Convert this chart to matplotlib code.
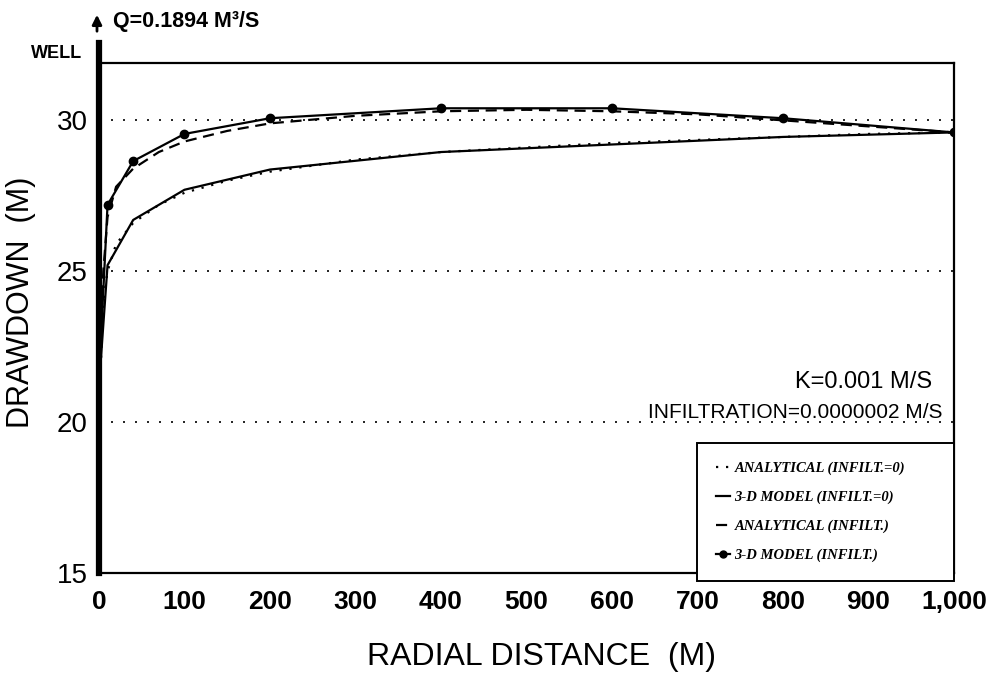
"""
Drawdown vs radial distance around a pumping well:
analytical solutions vs 3-D model, with and without infiltration.
"""

import matplotlib.pyplot as plt
from matplotlib.lines import Line2D

# 3-D model nodes (M) and drawdown (M)
model_r = [2, 10, 40, 100, 200, 400, 600, 800, 1000]
model_infilt = [22.6, 27.2, 28.65, 29.55, 30.07, 30.4, 30.4, 30.07, 29.6]
model_no_infilt = [22.0, 25.2, 26.7, 27.7, 28.37, 28.95, 29.2, 29.45, 29.6]

# analytical curves
anal_r = [2, 5, 10, 20, 40, 70, 100, 150, 200, 300, 400, 500, 600, 700, 800, 900, 1000]
anal_infilt = [22.4, 25.0, 26.8, 27.8, 28.4, 28.95, 29.3, 29.65, 29.9, 30.15,
               30.3, 30.35, 30.3, 30.2, 30.0, 29.8, 29.6]
anal_no_infilt = [21.8, 24.0, 25.0, 25.9, 26.6, 27.2, 27.6, 28.0, 28.3, 28.7,
                  28.95, 29.1, 29.25, 29.35, 29.45, 29.55, 29.6]

x_ticks = [0, 100, 200, 300, 400, 500, 600, 700, 800, 900, 1000]
x_tick_labels = ["0", "100", "200", "300", "400", "500", "600", "700", "800", "900", "1,000"]
y_ticks = [15, 20, 25, 30]

legend_labels = [
    "ANALYTICAL (INFILT.=0)",
    "3-D MODEL (INFILT.=0)",
    "ANALYTICAL (INFILT.)",
    "3-D MODEL (INFILT.)",
]

plt.rcParams["font.family"] = ["Liberation Sans", "DejaVu Sans"]

fig = plt.figure(figsize=(10.04, 6.79), dpi=100)
ax = fig.add_axes([0.0986, 0.1561, 0.8516, 0.7511])

dotted = (0, (1.0, 3.5))
dashed = (0, (5, 3))

ax.plot(anal_r, anal_no_infilt, color="black", lw=1.6, linestyle=dotted)
ax.plot(model_r, model_no_infilt, color="black", lw=1.6)
ax.plot(anal_r, anal_infilt, color="black", lw=1.6, linestyle=dashed)
ax.plot(model_r[1:], model_infilt[1:], color="black", lw=1.6, marker="o", markersize=6)
ax.plot(model_r[:2], model_infilt[:2], color="black", lw=1.6)

ax.set_xlim(0, 1000)
ax.set_ylim(15, 31.9)
ax.set_xticks(x_ticks)
ax.set_xticklabels(x_tick_labels)
ax.set_yticks(y_ticks)

ax.tick_params(axis="x", length=0, pad=12, labelsize=19)
ax.tick_params(axis="y", length=0, pad=8, labelsize=20)
for lbl in ax.get_xticklabels():
    lbl.set_fontweight("bold")

# dotted reference lines
ax.yaxis.grid(True, color="black", lw=1.2, linestyle=(0, (1.2, 6)))

for side in ["top", "right", "bottom"]:
    ax.spines[side].set_linewidth(1.6)
ax.spines["left"].set_visible(False)
# the well itself: thick bar on the left edge, rising above the frame
ax.axvline(0, ymin=0, ymax=1.039, color="black", lw=4.5, clip_on=False, zorder=5)

ax.set_xlabel("RADIAL DISTANCE  (M)", fontsize=23)
ax.xaxis.set_label_coords(0.518, -0.135)
ax.set_ylabel("DRAWDOWN  (M)", fontsize=22)
ax.yaxis.set_label_coords(-0.074, 0.53)

ax.text(0.974, 0.375, "K=0.001 M/S", transform=ax.transAxes,
        ha="right", va="center", fontsize=17)
ax.text(0.987, 0.314, "INFILTRATION=0.0000002 M/S", transform=ax.transAxes,
        ha="right", va="center", fontsize=15)

handles = [
    Line2D([], [], color="black", lw=1.6, linestyle=dotted),
    Line2D([], [], color="black", lw=1.6),
    Line2D([], [], color="black", lw=1.6, linestyle=dashed),
    Line2D([], [], color="black", lw=1.6, marker="o", markersize=5),
]
leg = ax.legend(handles, legend_labels, loc="upper left",
                bbox_to_anchor=(0.699, 0.0, 0.301, 0.255), mode="expand",
                prop={"family": "Liberation Serif", "weight": "bold",
                      "style": "italic", "size": 10.5},
                frameon=True, fancybox=False, edgecolor="black", framealpha=1,
                handlelength=1.0, handletextpad=0.3, labelspacing=1.05,
                borderpad=1.3, borderaxespad=0)
leg.get_frame().set_linewidth(1.4)

fig.text(82 / 1004, 1 - 54 / 679, "WELL", ha="right", va="center",
         fontsize=13, fontweight="bold")
fig.text(113 / 1004, 1 - 22 / 679, "Q=0.1894 M³/S", ha="left", va="center",
         fontsize=15.5, fontweight="bold")
ax.annotate("", xy=(97 / 1004, 1 - 12 / 679), xytext=(97 / 1004, 1 - 34 / 679),
            xycoords="figure fraction", textcoords="figure fraction",
            arrowprops=dict(arrowstyle="-|>", color="black", lw=2, mutation_scale=14))

fig.savefig("out.png", dpi=100)
